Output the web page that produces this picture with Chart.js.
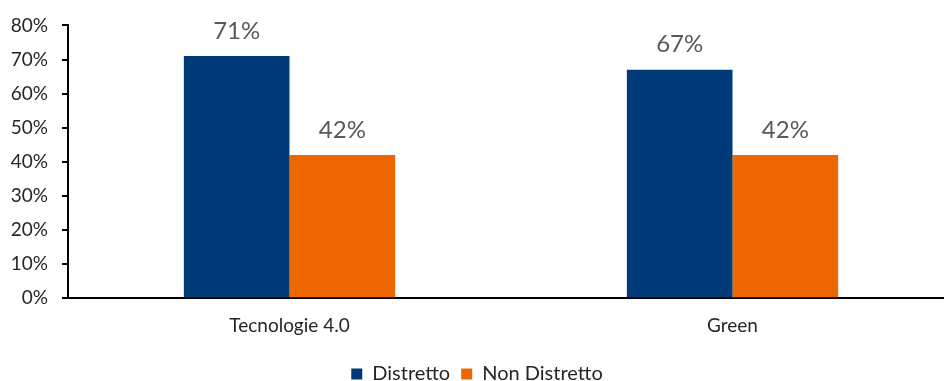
<!DOCTYPE html>
<html>
<head>
<meta charset="utf-8">
<script src="https://cdn.jsdelivr.net/npm/chart.js@4.4.1/dist/chart.umd.min.js"></script>
<style>
  html, body { margin: 0; padding: 0; background: #fff; overflow: hidden; }
  #wrap { position: relative; width: 954px; height: 394px; }
</style>
</head>
<body>
<div id="wrap"><canvas id="chart"></canvas></div>
<script>
const categories = ['Tecnologie 4.0', 'Green'];
const distretto = [71, 67];
const nonDistretto = [42, 42];
const yTicks = [0, 10, 20, 30, 40, 50, 60, 70, 80];

const FONT = "Lato, 'DejaVu Sans', sans-serif";

// Writes each bar's value above it
const valueLabels = {
  id: 'valueLabels',
  afterDatasetsDraw(chart) {
    const ctx = chart.ctx;
    ctx.save();
    ctx.font = '24px ' + FONT;
    ctx.fillStyle = '#595959';
    ctx.textAlign = 'center';
    ctx.textBaseline = 'bottom';
    chart.data.datasets.forEach((ds, i) => {
      chart.getDatasetMeta(i).data.forEach((bar, j) => {
        ctx.fillText(ds.data[j] + '%', bar.x, bar.y - 13);
      });
    });
    ctx.restore();
  }
};

new Chart(document.getElementById('chart'), {
  type: 'bar',
  data: {
    labels: categories,
    datasets: [
      { label: 'Distretto', data: distretto, backgroundColor: '#003A78', categoryPercentage: 0.477, barPercentage: 1.0 },
      { label: 'Non Distretto', data: nonDistretto, backgroundColor: '#EE6600', categoryPercentage: 0.477, barPercentage: 1.0 }
    ]
  },
  options: {
    responsive: true,
    maintainAspectRatio: false,
    animation: false,
    layout: { padding: { top: 21, left: 0, right: 0, bottom: 0 } },
    plugins: {
      legend: {
        position: 'bottom',
        labels: {
          boxWidth: 11, boxHeight: 11, padding: 11,
          color: '#262626',
          font: { family: FONT, size: 20 }
        }
      },
      tooltip: { enabled: false }
    },
    scales: {
      x: {
        grid: { display: false, drawTicks: false },
        border: { display: true, color: '#000', width: 2 },
        ticks: { color: '#262626', font: { family: FONT, size: 19 }, padding: 16 }
      },
      y: {
        min: 0, max: 80,
        afterBuildTicks(scale) { scale.ticks = yTicks.map(v => ({ value: v })); },
        afterFit(scale) { scale.width = 68; },
        grid: { drawOnChartArea: false, drawTicks: true, tickLength: 6, color: '#000', lineWidth: 2 },
        border: { display: true, color: '#000', width: 2 },
        ticks: {
          color: '#262626', padding: 14,
          font: { family: FONT, size: 19 },
          callback: v => v + '%'
        }
      }
    }
  },
  plugins: [valueLabels]
});
</script>
</body>
</html>
